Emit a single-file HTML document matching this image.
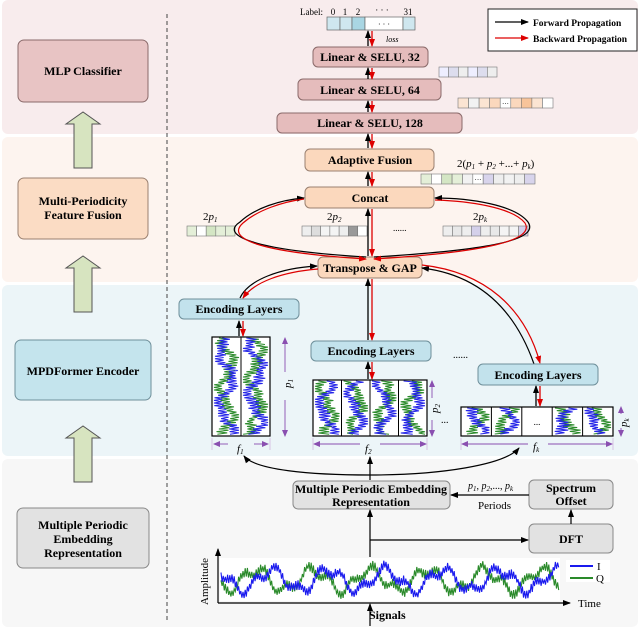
<!DOCTYPE html>
<html><head><meta charset="utf-8"><style>
html,body{margin:0;padding:0;background:#fff}
svg, svg text{font-family:"Liberation Serif","DejaVu Serif",serif}
.b{font-weight:bold;font-size:12px;font-family:"Liberation Serif",serif}
</style></head><body>
<svg id="s" width="640" height="629" viewBox="0 0 640 629" xmlns="http://www.w3.org/2000/svg" font-family="Liberation Serif, serif">
<defs>
<marker id="ak" markerWidth="8" markerHeight="8" refX="7" refY="4" orient="auto" markerUnits="userSpaceOnUse"><path d="M0,1 L8,4 L0,7 z" fill="#000"/></marker>
<marker id="ar" markerWidth="8" markerHeight="8" refX="7" refY="4" orient="auto" markerUnits="userSpaceOnUse"><path d="M0,1 L8,4 L0,7 z" fill="#d00"/></marker>
<marker id="ap" markerWidth="7" markerHeight="7" refX="6" refY="3.5" orient="auto" markerUnits="userSpaceOnUse"><path d="M0,0.5 L7,3.5 L0,6.5 z" fill="#8a4fb0"/></marker>
</defs>
<rect x="2" y="0" width="636" height="134" rx="6" fill="#f8eced"/>
<rect x="2" y="137" width="636" height="145" rx="6" fill="#fdf4ef"/>
<rect x="2" y="285" width="636" height="171" rx="6" fill="#ecf5f8"/>
<rect x="2" y="459" width="636" height="168" rx="6" fill="#f7f7f7"/>
<line x1="167" y1="14" x2="167" y2="622" stroke="#444" stroke-dasharray="4,3"/>
<rect x="18" y="40" width="130" height="62" rx="6" fill="#e8c4c4" stroke="#8a6a6a"/>
<text x="83" y="75" text-anchor="middle" class="b">MLP Classifier</text>
<rect x="18" y="178" width="130" height="61" rx="6" fill="#fbdcc4" stroke="#9a8070"/>
<text x="83" y="205" text-anchor="middle" class="b">Multi-Periodicity</text>
<text x="83" y="219" text-anchor="middle" class="b">Feature Fusion</text>
<rect x="15" y="340" width="136" height="60" rx="6" fill="#c4e4ed" stroke="#6e8f9a"/>
<text x="83" y="375" text-anchor="middle" class="b">MPDFormer Encoder</text>
<rect x="17" y="508" width="132" height="60" rx="6" fill="#e2e2e2" stroke="#888"/>
<text x="83" y="529" text-anchor="middle" class="b">Multiple Periodic</text>
<text x="83" y="543" text-anchor="middle" class="b">Embedding</text>
<text x="83" y="557" text-anchor="middle" class="b">Representation</text>
<g fill="#d7e4c0" stroke="#555">
<path d="M74,168 V124 H66 L83,112 L100,124 H92 V168 z"/>
<path d="M74,312 V268 H66 L83,256 L100,268 H92 V312 z"/>
<path d="M74,482 V438 H66 L83,426 L100,438 H92 V482 z"/>
</g>
<rect x="488" y="9" width="149" height="42" fill="#fff" stroke="#222"/>
<line x1="495" y1="22" x2="528" y2="22" stroke="#000" stroke-width="1.3" marker-end="url(#ak)"/>
<line x1="495" y1="38" x2="528" y2="38" stroke="#d00" stroke-width="1.3" marker-end="url(#ar)"/>
<text x="533" y="26" font-size="9.5" font-weight="bold">Forward Propagation</text>
<text x="533" y="42" font-size="9.5" font-weight="bold">Backward Propagation</text>
<text x="300" y="15" font-size="9">Label:</text>
<g font-size="9" text-anchor="middle"><text x="333" y="15">0</text><text x="345" y="15">1</text><text x="358" y="15">2</text><text x="382" y="13">· · ·</text><text x="408" y="15">31</text></g>
<g stroke="#666" stroke-width="0.7">
<rect x="327" y="17" width="13" height="13" fill="#cfe7ef"/><rect x="340" y="17" width="12" height="13" fill="#cfe7ef"/><rect x="352" y="17" width="13" height="13" fill="#a9d6e3"/><rect x="365" y="17" width="38" height="13" fill="#fff"/><rect x="403" y="17" width="12" height="13" fill="#cfe7ef"/></g>
<text x="384" y="27" font-size="8" text-anchor="middle">· · ·</text>
<text x="386" y="42" font-size="8" font-style="italic">loss</text>
<g fill="#e5bcbc" stroke="#8a6a6a">
<rect x="313" y="47" width="115" height="20" rx="5"/>
<rect x="298" y="79" width="143" height="21" rx="5"/>
<rect x="277" y="113" width="185" height="20" rx="5"/>
</g>
<text x="370" y="61" text-anchor="middle" class="b">Linear &amp; SELU, 32</text>
<text x="370" y="94" text-anchor="middle" class="b">Linear &amp; SELU, 64</text>
<text x="370" y="127" text-anchor="middle" class="b">Linear &amp; SELU, 128</text>
<g id="vecs" stroke="#777" stroke-width="0.6"></g>
<g fill="#fbd8bd" stroke="#9a8070">
<rect x="305" y="149" width="129" height="22" rx="5"/>
<rect x="305" y="187" width="129" height="21" rx="5"/>
<rect x="318" y="257" width="104" height="21" rx="5"/>
</g>
<text x="370" y="164" text-anchor="middle" class="b">Adaptive Fusion</text>
<text x="370" y="202" text-anchor="middle" class="b">Concat</text>
<text x="370" y="272" text-anchor="middle" class="b">Transpose &amp; GAP</text>
<g font-size="11" font-style="italic">
<text x="457" y="167"><tspan font-style="normal">2(</tspan>p<tspan font-size="7" dy="2">1</tspan><tspan dy="-2" font-style="normal"> + </tspan>p<tspan font-size="7" dy="2">2</tspan><tspan dy="-2" font-style="normal"> +...+ </tspan>p<tspan font-size="7" dy="2">k</tspan><tspan dy="-2" font-style="normal">)</tspan></text>
<text x="203" y="220"><tspan font-style="normal">2</tspan>p<tspan font-size="7" dy="2">1</tspan></text>
<text x="327" y="220"><tspan font-style="normal">2</tspan>p<tspan font-size="7" dy="2">2</tspan></text>
<text x="473" y="220"><tspan font-style="normal">2</tspan>p<tspan font-size="7" dy="2">k</tspan></text>
</g>
<text x="393" y="231" font-size="9">......</text>
<g stroke-width="1.3">
<line x1="368" y1="46" x2="368" y2="31" stroke="#000" marker-end="url(#ak)"/><line x1="372" y1="31" x2="372" y2="46" stroke="#d00" marker-end="url(#ar)"/>
<line x1="368" y1="79" x2="368" y2="68" stroke="#000" marker-end="url(#ak)"/><line x1="372" y1="68" x2="372" y2="79" stroke="#d00" marker-end="url(#ar)"/>
<line x1="368" y1="112" x2="368" y2="101" stroke="#000" marker-end="url(#ak)"/><line x1="372" y1="101" x2="372" y2="112" stroke="#d00" marker-end="url(#ar)"/>
<line x1="368" y1="148" x2="368" y2="134" stroke="#000" marker-end="url(#ak)"/><line x1="372" y1="134" x2="372" y2="148" stroke="#d00" marker-end="url(#ar)"/>
<line x1="368" y1="186" x2="368" y2="172" stroke="#000" marker-end="url(#ak)"/><line x1="372" y1="172" x2="372" y2="186" stroke="#d00" marker-end="url(#ar)"/>
<line x1="368" y1="256" x2="368" y2="209" stroke="#000" marker-end="url(#ak)"/><line x1="372" y1="209" x2="372" y2="256" stroke="#d00" marker-end="url(#ar)"/>
<line x1="368" y1="340" x2="368" y2="279" stroke="#000" marker-end="url(#ak)"/><line x1="372" y1="279" x2="372" y2="340" stroke="#d00" marker-end="url(#ar)"/>
<line x1="239" y1="336" x2="239" y2="321" stroke="#000" marker-end="url(#ak)"/><line x1="243" y1="321" x2="243" y2="336" stroke="#d00" marker-end="url(#ar)"/>
<line x1="368" y1="379" x2="368" y2="362" stroke="#000" marker-end="url(#ak)"/><line x1="372" y1="362" x2="372" y2="379" stroke="#d00" marker-end="url(#ar)"/>
<line x1="536" y1="406" x2="536" y2="386" stroke="#000" marker-end="url(#ak)"/><line x1="540" y1="386" x2="540" y2="406" stroke="#d00" marker-end="url(#ar)"/>
</g>
<g fill="none" stroke-width="1.2">
<path d="M366,257 C250,250 220,235 240,222 C255,208 280,200 304,198" stroke="#000" marker-end="url(#ak)"/>
<path d="M304,199 C282,202 258,210 243,223 C226,238 255,252 366,259" stroke="#d00" marker-end="url(#ar)"/>
<path d="M374,257 C490,250 540,240 528,222 C515,205 470,198 435,198" stroke="#000" marker-end="url(#ak)"/>
<path d="M435,200 C468,201 512,207 525,223 C535,240 488,252 374,259" stroke="#d00" marker-end="url(#ar)"/>
<path d="M240,298 C248,280 280,268 317,266" stroke="#000" marker-end="url(#ak)"/>
<path d="M318,269 C282,272 254,282 243,298" stroke="#d00" marker-end="url(#ar)"/>
<path d="M534,364 C515,310 480,275 422,268" stroke="#000" marker-end="url(#ak)"/>
<path d="M422,265 C485,272 525,308 540,363" stroke="#d00" marker-end="url(#ar)"/>
</g>
<g fill="#c2e2ec" stroke="#6e8f9a">
<rect x="179" y="299" width="120" height="20" rx="5"/>
<rect x="311" y="341" width="120" height="20" rx="5"/>
<rect x="478" y="364" width="120" height="21" rx="5"/>
</g>
<text x="239" y="313" text-anchor="middle" class="b">Encoding Layers</text>
<text x="371" y="355" text-anchor="middle" class="b">Encoding Layers</text>
<text x="538" y="379" text-anchor="middle" class="b">Encoding Layers</text>
<text x="453" y="358" font-size="10">......</text>
<text x="441" y="423" font-size="10">...</text>
<g id="mats"></g>
<g stroke="#8a4fb0" stroke-width="0.9" fill="none">
<line x1="285" y1="345" x2="285" y2="338" marker-end="url(#ap)"/><line x1="285" y1="345" x2="285" y2="372"/><line x1="285" y1="400" x2="285" y2="428"/><line x1="285" y1="428" x2="285" y2="436" marker-end="url(#ap)"/>
<line x1="432" y1="390" x2="432" y2="381" marker-end="url(#ap)"/><line x1="432" y1="390" x2="432" y2="398"/><line x1="432" y1="420" x2="432" y2="428"/><line x1="432" y1="428" x2="432" y2="436" marker-end="url(#ap)"/>
<line x1="621" y1="414" x2="621" y2="407" marker-end="url(#ap)"/><line x1="621" y1="428" x2="621" y2="436" marker-end="url(#ap)"/>
<line x1="228" y1="444" x2="214" y2="444" marker-end="url(#ap)"/><line x1="254" y1="444" x2="268" y2="444" marker-end="url(#ap)"/>
<line x1="360" y1="444" x2="314" y2="444" marker-end="url(#ap)"/><line x1="380" y1="444" x2="426" y2="444" marker-end="url(#ap)"/>
<line x1="528" y1="444" x2="462" y2="444" marker-end="url(#ap)"/><line x1="548" y1="444" x2="612" y2="444" marker-end="url(#ap)"/>
</g>
<g stroke="#c9a0d8" stroke-width="0.6"><line x1="212" y1="438" x2="212" y2="450"/><line x1="270" y1="438" x2="270" y2="450"/><line x1="313" y1="438" x2="313" y2="450"/><line x1="427" y1="438" x2="427" y2="450"/><line x1="461" y1="438" x2="461" y2="450"/><line x1="613" y1="438" x2="613" y2="450"/></g>
<g font-size="11" font-style="italic">
<text x="237" y="452">f<tspan font-size="7" dy="2">1</tspan></text>
<text x="365" y="452">f<tspan font-size="7" dy="2">2</tspan></text>
<text x="533" y="450">f<tspan font-size="7" dy="2">k</tspan></text>
<text transform="translate(291,388) rotate(-90)">p<tspan font-size="7" dy="2">1</tspan></text>
<text transform="translate(438,413) rotate(-90)">p<tspan font-size="7" dy="2">2</tspan></text>
<text transform="translate(627,427) rotate(-90)">p<tspan font-size="7" dy="2">k</tspan></text>
</g>
<g fill="none" stroke="#000" stroke-width="1.2">
<line x1="370" y1="480" x2="370" y2="457" marker-end="url(#ak)"/>
<path d="M370,475 C310,475 255,470 244,456" marker-end="url(#ak)"/>
<path d="M370,475 C440,475 505,465 519,448" marker-end="url(#ak)"/>
</g>
<g fill="#e2e2e2" stroke="#888">
<rect x="293" y="481" width="157" height="28" rx="5"/>
<rect x="529" y="480" width="84" height="29" rx="5"/>
<rect x="529" y="524" width="84" height="29" rx="5"/>
</g>
<text x="371" y="493" text-anchor="middle" class="b">Multiple Periodic Embedding</text>
<text x="371" y="506" text-anchor="middle" class="b">Representation</text>
<text x="571" y="492" text-anchor="middle" class="b">Spectrum</text>
<text x="571" y="505" text-anchor="middle" class="b">Offset</text>
<text x="571" y="543" text-anchor="middle" class="b">DFT</text>
<text x="468" y="489" font-size="10" font-style="italic">p<tspan font-size="7" dy="2">1</tspan><tspan dy="-2" font-style="normal">, </tspan>p<tspan font-size="7" dy="2">2</tspan><tspan dy="-2" font-style="normal">,..., </tspan>p<tspan font-size="7" dy="2">k</tspan></text>
<text x="478" y="509" font-size="11">Periods</text>
<g fill="none" stroke="#000" stroke-width="1.2">
<line x1="529" y1="495" x2="451" y2="495" marker-end="url(#ak)"/>
<line x1="571" y1="524" x2="571" y2="510" marker-end="url(#ak)"/>
<line x1="370" y1="557" x2="370" y2="510" marker-end="url(#ak)"/>
<line x1="370" y1="540" x2="528" y2="540" marker-end="url(#ak)"/>
<line x1="370" y1="626" x2="370" y2="604" marker-end="url(#ak)"/>
<line x1="218" y1="603" x2="218" y2="549" marker-end="url(#ak)"/>
<line x1="218" y1="603" x2="570" y2="603" marker-end="url(#ak)"/>
</g>
<rect x="220" y="558" width="340" height="43" fill="#fff"/>
<g id="sig"></g>
<rect x="566" y="560" width="44" height="22" fill="#fff"/>
<line x1="570" y1="566" x2="593" y2="566" stroke="#1a1aee" stroke-width="2"/>
<line x1="570" y1="578" x2="593" y2="578" stroke="#2a8a2a" stroke-width="2"/>
<text x="597" y="570" font-size="11">I</text><text x="596" y="582" font-size="11">Q</text>
<text x="578" y="607" font-size="11">Time</text>
<text transform="translate(208,605) rotate(-90)" font-size="11">Amplitude</text>
<text x="369" y="619" class="b" font-size="12">Signals</text>
</svg>
<script>
var NS="http://www.w3.org/2000/svg";
function el(t,a,p){var e=document.createElementNS(NS,t);for(var k in a)e.setAttribute(k,a[k]);p.appendChild(e);return e;}
var seed=7;function rnd(){seed=(seed*16807)%2147483647;return seed/2147483647;}
var V=document.getElementById("vecs");
function vec(x,y,w,h,cols){var cw=w/cols.length;cols.forEach(function(c,i){if(c==="dots"){el("rect",{x:x+i*cw,y:y,width:cw,height:h,fill:"#fff"},V);var t=el("text",{x:x+i*cw+cw/2,y:y+h-2,"font-size":7,"text-anchor":"middle",stroke:"none"},V);t.textContent="···";}else el("rect",{x:x+i*cw,y:y,width:cw,height:h,fill:c},V);});}
vec(439,67,58,10,["#eef","#dde","#eee","#eef","#dde","#eee"]);
vec(458,98,95,10,["#fbe4d2","#f2f2f2","#fbe4d2","#fbd8bd","dots","#fbd8bd","#f8c49a","#fbe4d2","#fff"]);
vec(421,174,114,10,["#e4efd8","#fff","#d4e6c4","#e4efd8","#f2f2f2","dots","#d8d4ec","#eee","#f2f2f2","#eee","#d8d4ec"]);
vec(187,226,48,10,["#e4efd8","#fff","#d4e6c4","#e4efd8","#e4efd8"]);
vec(302,226,65,10,["#eee","#ddd","#f4f4f4","#f4f4f4","#eee","#999","#fff"]);
vec(443,226,85,10,["#eee","#e8e8e8","#eee","#d4d0ea","#eee","#e8e8e8","#f4f4f4","#f4f4f4","#d4d0ea"]);
var M=document.getElementById("mats");
function wave(x0,y0,w,h,col,ph){var pts=[],s=1;for(var y=y0+1;y<y0+h-1;y+=1.3){s=-s;var base=0.5+0.28*Math.sin(y*0.12+ph)+0.1*Math.sin(y*0.31+ph*2);var v=base+s*(0.12+0.14*rnd());var xx=x0+2+Math.max(0,Math.min(1,v))*(w-4);pts.push(xx.toFixed(1)+","+y.toFixed(1));}el("polyline",{points:pts.join(" "),fill:"none",stroke:col,"stroke-width":1},M);}
function mat(x,y,w,h,n,skip){el("rect",{x:x,y:y,width:w,height:h,fill:"#fff"},M);var cw=w/n;for(var i=0;i<n;i++){if(i===skip)continue;wave(x+i*cw,y,cw,h,"#2a8a2a",i*1.3+2);wave(x+i*cw,y,cw,h,"#2424e8",i*1.3);}el("rect",{x:x,y:y,width:w,height:h,fill:"none",stroke:"#000","stroke-width":1.2},M);for(var i=1;i<n;i++)el("line",{x1:x+i*cw,y1:y,x2:x+i*cw,y2:y+h,stroke:"#000","stroke-width":1},M);}
mat(212,337,58,99,2,-1);mat(313,380,114,56,4,-1);mat(461,407,152,29,5,2);
var t=el("text",{x:537,y:425,"font-size":9,"text-anchor":"middle"},M);t.textContent="...";
var S=document.getElementById("sig");
function sig(col,ph){var pts=[],s=1;for(var x=221;x<559;x+=1.1){s=-s;var y=580+10*Math.sin(x*0.11+ph)+5*Math.sin(x*0.29+ph*2)+s*(2+3*rnd());pts.push(x.toFixed(1)+","+Math.max(560,Math.min(600,y)).toFixed(1));}el("polyline",{points:pts.join(" "),fill:"none",stroke:col,"stroke-width":1.1},S);}
sig("#2a8a2a",1.7);sig("#1a1aee",0);
</script>
</body></html>
